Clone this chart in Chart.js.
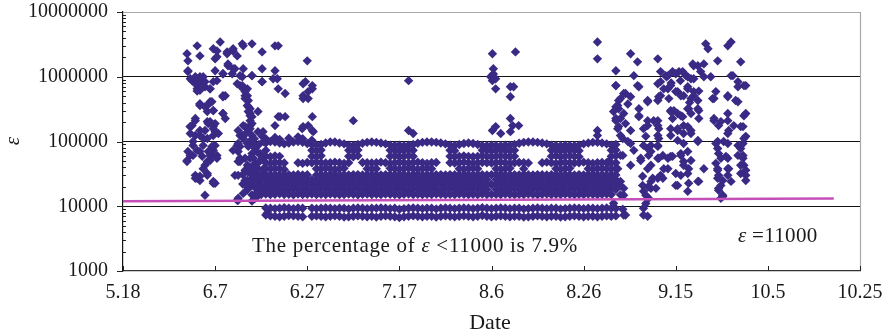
<!DOCTYPE html>
<html>
<head>
<meta charset="utf-8">
<script src="https://cdn.jsdelivr.net/npm/chart.js@4.4.1/dist/chart.umd.min.js"></script>
<style>
  html, body { margin: 0; padding: 0; background: #ffffff; }
  #wrap { width: 889px; height: 336px; position: relative; }
</style>
</head>
<body>
<div id="wrap"><canvas id="chart" width="889" height="336"></canvas></div>
<script>
// x axis: days counted from 18 May; ticks every 20 days
const tickDays = [0, 20, 40, 60, 80, 100, 120, 140, 160];
const dateTicks = ['5.18', '6.7', '6.27', '7.17', '8.6', '8.26', '9.15', '10.5', '10.25'];

// continuous records, one value per day starting at bandStartDay (null = no record)
const bandStartDay = 26;
const rowL1 = [
  null,null,null,null,null,7300,7100,7000,6900,7000,
  7200,7100,7000,6900,null,7000,7100,7000,6900,7000,
  7100,7000,6800,6900,7000,7100,7000,6900,7000,6800,
  7000,7100,7000,6900,6700,6900,7000,7100,7000,6900,
  7000,7000,6800,7000,7100,7000,6900,7000,7100,7000,
  6900,7000,7200,7000,6900,7000,7100,7000,6900,7000,
  7000,6800,6900,7000,7100,7000,6900,7000,7000,6800,
  6900,7000,7100,7000,6900,7000,7000,6900,7000,7100,
  7000,7100];
const rowL2 = [
  null,null,null,null,null,9400,9300,9200,9300,9500,
  9300,9200,9400,9300,null,9300,9200,9300,9400,9300,
  9200,9300,9300,9100,9300,9400,9300,9200,9300,9300,
  9400,9300,9200,9300,9000,9200,9300,9400,9300,9200,
  9300,9300,9100,9300,9400,9300,9200,9300,9400,9300,
  9200,9300,9500,9300,9200,9300,9400,9300,9200,9300,
  9300,9100,9200,9300,9400,9300,9200,9300,9300,9100,
  9200,9300,9400,9300,9200,9300,9300,9200,9300,9400,
  9300,9200];
const rowC1 = [
  null,null,15000,15500,15200,15400,15100,15300,15600,15200,
  15300,15000,15400,15200,15300,15500,15100,15300,15200,15400,
  15300,15100,15200,15500,15300,15000,15300,15400,15200,15300,
  15100,15400,15300,15200,15000,15300,15500,15200,15300,15100,
  15300,15200,15400,15300,15100,15300,15200,15500,15300,15200,
  15300,15100,15400,15200,15300,15300,15200,15400,15300,15100,
  15300,15200,15500,15300,15100,15300,15400,15200,15300,15200,
  15400,15300,15100,15300,15200,15500,15300,15200,15300,15400,
  15200,null];
const rowC2 = [
  null,18000,null,18500,18000,18300,18100,18400,18200,18000,
  18200,18400,18100,18300,18200,18000,18300,18200,18500,18100,
  18200,18300,18100,18200,18400,18200,18000,18300,18200,18100,
  18300,18200,18400,18100,18200,18300,18000,18200,18400,18200,
  18100,18300,18200,18000,18200,18400,18300,18100,18200,18300,
  18200,18400,18100,18200,null,18300,18200,18000,18200,18400,
  18200,18100,18300,18200,18400,18200,18000,18300,18200,18100,
  18300,18200,18400,18100,18200,18300,18200,18000,18200,18300,
  18400,18100];
const rowC3 = [
  22000,null,21000,22000,21500,21700,21900,21500,21800,21600,
  21700,21500,21900,21600,21800,21700,21400,21800,21600,21900,
  21700,21500,21800,21600,21700,21900,21600,21700,21500,21800,
  21600,21700,21900,21500,21700,21800,21600,21700,21900,21600,
  21700,21500,21800,21700,21600,21900,21700,21500,21800,21700,
  21600,21800,21700,21500,21700,21700,21900,21600,21700,21800,
  21500,21700,21800,21600,21900,21700,21500,21800,21700,21600,
  21800,21700,21500,21900,21600,21700,21800,21600,21700,21500,
  21800,21600];
const rowC4 = [
  null,25000,26000,25500,26000,25800,25600,26000,25700,25900,
  25800,25600,26100,25700,25900,25800,25500,25900,25700,26000,
  25800,25600,25900,25700,25800,26000,25700,25800,25600,25900,
  25700,25800,26000,25600,25800,25900,25700,25800,26000,25700,
  25800,25600,25900,25800,25700,26000,25800,25600,25900,25800,
  25700,25900,25800,25600,null,25800,26000,25700,25800,25900,
  25600,25800,25900,25700,26000,25800,25600,25900,25800,25700,
  25900,25800,25600,26000,25700,25800,25900,25700,25800,25600,
  25900,25700];
const rowC5 = [
  31000,null,30000,31000,30500,30600,30400,30800,30500,30700,
  30600,30400,30900,30500,30700,null,30300,30700,30500,30800,
  30600,30400,30700,30500,30600,30800,30500,30600,30400,30700,
  30500,30600,30800,30400,30600,30700,30500,30600,30800,30500,
  30600,30400,30700,30600,30500,30800,30600,30400,30700,30600,
  30500,30700,30600,30400,30600,30600,30800,30500,30600,30700,
  30400,30600,30700,30500,30800,30600,30400,30700,30600,30500,
  30700,30600,30400,30800,30500,30600,30700,30500,30600,30400,
  30700,30500];
const rowU1 = [
  null,null,null,null,null,38000,37500,38500,38000,37000,
  null,null,null,null,null,null,38000,37500,38500,38000,
  37000,38000,38500,null,null,null,null,38000,37500,38000,
  null,null,38500,38000,37500,38000,38500,38000,37500,38000,
  38500,38000,null,null,null,null,null,38000,37500,38000,
  38500,38000,null,null,null,38000,37500,38000,38500,null,
  null,38000,null,null,null,null,null,null,38000,37500,
  38000,38500,null,null,null,38000,37500,38000,38500,38000,
  37500,38000];
const rowU2 = [
  null,null,null,null,null,47000,46000,48000,47000,46500,
  null,null,47000,46000,47500,47000,48000,47000,46500,47000,
  48000,47000,46000,47000,null,null,47500,47000,46500,47000,
  48000,47000,46000,47000,47500,47000,46500,47000,48000,47000,
  46000,47000,47500,null,null,47000,46500,47000,48000,47000,
  46000,47000,47500,47000,46500,47000,48000,47000,46000,47000,
  47500,47000,46500,null,null,47000,48000,47000,46000,47000,
  47500,47000,46500,47000,48000,47000,46000,47000,47500,47000,
  46500,47000];
const rowU3 = [
  null,null,null,null,null,59000,58000,60000,59000,null,
  null,null,null,null,null,59000,58000,60000,null,null,
  null,null,null,59000,58000,60000,null,null,null,null,
  null,null,59000,60000,58000,59000,60000,59000,null,null,
  null,null,null,null,null,59000,58000,59000,60000,59000,
  58000,59000,60000,59000,58000,59000,60000,59000,58000,59000,
  null,null,null,null,null,null,null,59000,60000,58000,
  59000,60000,59000,58000,null,null,null,null,null,null,
  59000,60000];
const rowU4 = [
  null,null,null,null,null,73000,null,null,null,null,
  null,null,null,null,null,73000,72000,74000,null,null,
  null,null,null,73000,72000,74000,null,null,null,null,
  null,null,73000,74000,72000,73000,74000,73000,null,null,
  null,null,null,null,null,73000,72000,null,null,null,
  null,null,73000,74000,72000,73000,74000,73000,72000,73000,
  null,null,null,null,null,null,null,73000,74000,72000,
  73000,74000,73000,72000,null,null,null,null,null,null,
  73000,74000];
const rowU5 = [
  null,null,null,null,null,95000,100000,98000,95000,92000,
  95000,98000,100000,97000,93000,90000,88000,90000,95000,98000,
  98000,95000,92000,88000,87000,90000,94000,97000,98000,97000,
  95000,92000,88000,87000,88000,86000,88000,90000,94000,97000,
  98000,98000,97000,95000,92000,88000,87000,90000,93000,95000,
  93000,90000,87000,86000,88000,87000,86000,88000,87000,90000,
  94000,97000,98000,98000,97000,95000,92000,88000,87000,86000,
  88000,87000,86000,88000,92000,95000,97000,97000,95000,92000,
  88000,90000];

// scattered records, [day, epsilon]
const earlyPoints = [
  [16.1,3.0e6],[13.9,2.26e6],[16.7,2.1e6],[20.4,2.5e6],[21.1,3.45e6],[22.6,2.26e6],[23.9,2.5e6],
  [25.9,3.22e6],[28.0,3.22e6],[30.2,2.42e6],[33.0,3.0e6],[33.7,3.0e6],[40.0,1.76e6],[14.1,1.24e6],
  [16.1,9.3e5],[17.4,8.4e5],[20.0,1.24e6],[21.7,1.11e6],[23.9,1.33e6],[26.1,1.33e6],[28.0,1.04e6],
  [30.2,1.33e6],[33.0,1.24e6],[30.2,8.4e5],[33.5,9.3e5],[33.7,6.5e5],[35.2,5.5e5],[39.6,8.4e5],
  [41.1,6.5e5],[39.1,5.1e5],[40.2,4.6e5],[18.9,6.5e5],[21.7,4.9e5],[25.4,7.3e5],[27.0,5.1e5],
  [16.7,3.8e5],[19.3,4.1e5],[19.6,3.0e5],[27.2,3.45e5],[27.6,2.5e5],[21.7,2.7e5],[15.7,2.26e5],
  [18.3,2.03e5],[20.0,1.89e5],[34.1,2.42e5],[35.2,2.42e5],[33.0,1.76e5],[27.6,1.76e5],[41.1,2.42e5],
  [39.1,1.7e5],[41.1,1.48e5],[14.6,1.7e5],[15.7,1.24e5],[17.8,1.48e5],[20.0,1.42e5],[25.9,1.24e5],
  [27.0,1.42e5],[29.3,1.42e5],[30.2,1.2e5],[15.2,1.0e5],[17.4,8.7e4],[19.3,8.4e4],[14.1,7.0e4],
  [17.2,5.9e4],[18.5,7.0e4],[19.6,6.1e4],[13.9,4.9e4],[17.8,4.3e4],[18.9,5.1e4],[15.7,3.0e4],
  [18.3,3.0e4],[19.6,2.42e4],[16.7,2.5e4],[17.8,1.48e4],[24.8,1.24e4],[28.7,1.33e4],[24.3,3.0e4],
  [26.5,2.5e4],[28.0,3.45e4],[23.9,7.3e4],[25.4,8.4e4],[28.3,9.3e4],[25.0,4.9e4],[27.0,4.3e4],
  [25.0,9.3e4],[15.0,8.7e5],[16.3,7.8e5],[17.2,8.7e5],[16.1,6.5e5],[16.7,3.6e5],[18.3,3.6e5],
  [18.3,2.9e5],[15.0,1.76e5],[18.5,1.89e5],[14.6,1.33e5],[16.7,1.48e5],[15.2,8.7e4],[17.4,1.11e5],
  [19.6,1.24e5],[14.6,6.1e4],[16.7,7.0e4],[19.6,7.3e4],[18.3,4.9e4],[20.4,5.5e4],[16.1,2.7e4],
  [18.3,3.2e4],[20.0,2.26e4],[19.6,2.7e6],[20.4,2.03e6],[20.4,8.7e5],[22.2,5.1e5],[22.2,2.26e5],
  [19.6,1.7e5],[20.7,1.33e5],[20.0,8.7e4],[20.4,6.1e4],[22.6,2.42e6],[23.9,2.7e6],[24.8,2.1e6],
  [22.8,1.58e6],[26.1,3.0e6],[25.4,1.04e6],[24.8,7.8e5],[27.0,6.5e5],[26.5,5.1e5],[27.0,3.6e5],
  [27.6,2.7e5],[28.0,1.89e5],[25.4,1.24e5],[25.4,5.5e4],[25.0,3.0e4],[27.0,2.5e4],[25.0,1.24e4],
  [28.0,1.2e4],[32.6,9.3e5],[33.7,2.42e5],[30.4,1.42e5],[29.1,1.42e4],[31.3,7.8e3],[39.1,7.8e5],
  [41.1,7.3e5],[40.2,5.9e5],[39.1,4.6e5],[38.9,1.58e5],[40.2,1.76e5],[41.3,1.42e5],[50.0,2.1e5],
  [62.0,8.7e5],[62.0,1.48e5],[63.0,1.33e5],[14.6,9.3e5],[15.7,7.8e5],[16.7,1.0e6],[17.8,7.0e5],
  [16.7,6.2e5],[26.1,6.5e5],[26.5,4.6e5],[27.2,2.9e5],[27.6,2.1e5],[26.5,1.7e5],[26.1,1.11e5],
  [27.0,9.3e4],[28.7,7.8e4],[29.8,6.5e4],[27.6,5.5e4],[29.3,3.8e4],[30.2,2.9e4],[27.2,1.89e4],
  [29.3,1.89e4],[26.1,1.58e4],[30.2,5.5e4],[28.7,4.6e4],[26.5,3.6e4],
  [31,1.1e5],[33,1.15e5],[34,1.08e5],[36,1.12e5],[38,1.18e5],[39,1.1e5],[41,1.05e5],
  [14.1,1.76e6],[20.0,1.89e6],[14.1,1.2e6],[15.7,1.0e6],[16.3,8.4e5],[17.2,7.0e5],[16.1,6.0e5],
  [17.8,8.4e5],[17.4,1.0e6],[18.9,6.5e5],[19.6,8.4e5],[21.7,1.11e6],[22.8,1.48e6],[24.3,1.33e6],
  [23.7,1.11e6],[25.9,1.0e6],[28.0,1.04e6],[30.2,8.4e5],[21.7,5.1e5],[16.7,3.8e5],[18.9,4.1e5],
  [17.8,3.45e5],[19.6,3.0e5],[21.7,2.7e5],[15.7,2.1e5],[18.9,2.03e5],[19.6,1.58e5],[14.6,1.7e5],
  [16.7,1.24e5],[18.3,1.11e5],[16.1,7.3e4],[19.6,8.4e4],[18.9,6.1e4],[13.9,5.1e4],[15.2,6.1e4],
  [17.4,3.8e4],[16.7,2.9e4],[19.6,2.26e4],[15.7,2.7e4],[25.9,7.3e5],[26.5,5.9e5],[27.2,4.3e5],
  [27.6,3.2e5],[28.0,2.42e5],[26.1,1.76e5],[27.6,1.58e5],[25.0,1.48e5],[26.1,1.2e5],[28.0,1.24e5],
  [24.8,8.7e4],[25.0,7.0e4],[27.2,8.4e4],[26.5,5.5e4],[25.4,4.9e4],[28.3,5.5e4],[27.0,3.45e4],
  [28.3,2.7e4],[25.0,1.33e4],[28.7,1.48e4],[29.3,2.9e5],
  [27.5,1.0e5],[28.5,1.1e5],[29.5,9.0e4],[30.5,1.0e5],[29.0,7.0e4],[30.0,6.0e4],[28.0,6.5e4],
  [29.5,4.8e4],[27.8,4.0e4],[29.0,3.3e4],[30.5,3.8e4],[28.0,2.3e4],[30.0,2.1e4],[29.0,1.6e4],[27.0,2.0e4]
];
const latePoints = [
  [80.2,2.26e6],[80.4,1.33e6],[79.8,1.0e6],[80.2,8.7e5],[80.9,6.5e5],[85.2,2.42e6],[84.1,7.0e5],
  [84.8,7.0e5],[84.1,4.9e5],[84.1,2.26e5],[84.6,1.76e5],[85.9,1.76e5],[80.2,1.48e5],[82.0,1.33e5],
  [80.9,1.7e5],[84.1,1.42e5],[80.4,1.1e6],[80.9,9.3e5],
  [103.0,3.45e6],[103.0,1.89e6],[103.0,1.48e5],[103.0,1.24e5],
  [107.0,1.24e6],[107.0,7.3e5],[110.2,2.26e6],[111.7,1.7e6],[110.9,1.04e6],[112.0,7.0e5],[109.1,5.5e5],
  [110.2,4.9e5],[107.4,3.6e5],[112.0,3.2e5],[107.0,2.1e5],[112.0,2.42e5],[110.2,1.48e5],[108.5,1.11e5],
  [110.2,9.3e4],[106.5,7.8e4],[108.0,6.1e4],[105.4,4.9e4],[107.4,3.8e4],[106.3,2.7e4],[108.0,2.1e4],
  [105.4,1.7e4],[106.5,1.11e4],[109.1,7.3e3],[108.0,4.6e5],[106.5,2.9e5],[108.0,2.26e5],[107.4,1.58e5],
  [109.1,1.89e5],[107.6,3.2e5],[108.0,1.5e4],[108.5,9.0e3],
  [113.0,8.7e4],[114.6,7.0e4],[112.4,5.1e4],[113.9,3.8e4],[112.8,2.9e4],[114.6,2.42e4],[113.0,1.7e4],
  [114.1,1.33e4],[113.0,9.3e3],[113.9,7.0e3],[116.1,1.89e6],[116.3,4.9e5],[113.9,4.3e5],[115.2,2.1e5],
  [113.9,1.76e5],[116.3,1.58e5],[116.3,1.11e5],[116.1,8.4e4],[117.2,6.1e4],[117.4,3.8e4],[117.2,2.7e4],
  [113.5,1.2e5],[114.0,2.0e4],[113.5,1.1e4],
  [116.7,8.4e5],[117.8,1.04e6],[119.3,1.2e6],[120.7,1.2e6],[122.2,1.04e6],[123.3,9.3e5],[118.3,6.5e5],
  [120.4,5.9e5],[122.6,6.5e5],[123.9,5.1e5],[118.5,4.6e5],[121.7,5.1e5],[119.6,3.0e5],[122.8,3.2e5],
  [124.8,3.2e5],[118.9,2.9e5],[121.1,2.5e5],[125.0,2.26e5],[120.4,1.58e5],[121.7,1.76e5],[123.3,1.48e5],
  [118.9,1.24e5],[124.8,1.0e5],[120.4,1.04e5],[121.7,9.3e4],[121.1,6.5e4],[119.3,5.9e4],[121.7,4.9e4],
  [122.8,3.8e4],[121.1,3.0e4],[118.3,3.8e4],[120.4,2.1e4],[122.8,2.26e4],[122.6,1.7e4],[126.1,3.8e4],
  [125.0,2.42e4],[119.0,8.0e5],[121.0,8.7e5],[118.0,1.0e6],[123.0,4.0e5],
  [126.5,3.22e6],[127.0,2.7e6],[132.0,3.45e6],[131.3,3.0e6],[129.1,1.76e6],[134.1,1.7e6],[124.8,1.48e6],
  [123.7,1.58e6],[126.1,1.58e6],
  [127.6,1.0e6],[128.7,5.9e5],[128.0,4.6e5],[131.3,5.1e5],[132.4,1.04e6],[133.5,7.0e5],[134.8,7.3e5],
  [133.0,4.3e5],[134.8,2.5e5],[128.3,2.26e5],[129.3,1.76e5],[131.3,2.1e5],[134.6,1.7e5],[131.5,1.48e5],
  [128.7,9.3e4],[130.4,1.0e5],[134.8,1.11e5],[129.3,6.5e4],[130.9,5.9e4],[133.5,6.1e4],[128.7,4.6e4],
  [131.5,3.8e4],[134.8,4.3e4],[129.3,3.0e4],[131.3,3.0e4],[135.2,2.5e4],[129.8,2.1e4],[130.2,1.48e4],
  [133.5,8.7e4],[129.1,7.8e4],[129.8,5.5e4],[129.1,3.6e4],[130.2,2.5e4],[129.3,1.76e4],[129.8,1.33e4],
  [134.1,7.8e4],[134.6,5.5e4],[134.1,3.2e4],[135.2,3.6e4],
  [107.0,7.3e5],[108.7,5.5e5],[111.7,7.3e5],[107.6,4.3e5],[107.0,3.45e5],[109.6,3.8e5],[113.9,4.1e5],
  [117.4,6.5e5],[112.0,2.5e5],[107.0,2.26e5],[108.7,2.7e5],[113.9,2.1e5],[116.1,1.76e5],[107.6,1.7e5],
  [113.0,1.58e5],[108.0,1.24e5],[116.1,8.7e4],[113.9,7.8e4],[109.6,1.0e5],[110.9,7.3e4],[108.5,6.1e4],
  [112.4,5.5e4],[114.1,6.1e4],[116.3,5.5e4],[118.3,5.5e4],[110.2,4.3e4],[116.7,3.0e4],[115.0,2.7e4],
  [108.0,2.42e4],[108.7,1.89e4],[112.8,2.1e4],[113.5,1.48e4],[114.6,1.89e4],[108.7,1.48e4],[108.7,7.3e3],
  [113.0,7.3e3],
  [123.9,1.48e6],[125.4,1.2e6],[116.7,1.2e6],[118.3,1.04e6],[120.0,1.11e6],[121.5,1.2e6],[122.6,1.0e6],
  [123.9,9.3e5],[126.1,1.0e6],[132.0,1.04e6],[133.5,8.4e5],[135.2,7.3e5],[116.1,7.8e5],[118.9,7.3e5],
  [116.7,5.1e5],[120.0,5.9e5],[122.6,7.0e5],[123.9,5.9e5],[125.0,6.0e5],[116.1,4.3e5],[121.1,5.1e5],
  [123.3,4.6e5],[124.8,4.3e5],[128.3,4.6e5],[131.3,4.9e5],[133.5,4.1e5],[118.9,3.0e5],[120.4,2.7e5],
  [122.6,3.2e5],[123.3,2.7e5],[125.0,3.0e5],[131.3,2.7e5],[135.2,2.7e5],[116.1,2.1e5],[119.3,2.26e5],
  [121.5,2.42e5],[128.3,2.1e5],[129.8,2.03e5],[132.6,1.76e5],[134.1,1.7e5],[118.9,1.58e5],[120.4,1.48e5],
  [122.6,1.7e5],[121.7,1.33e5],[123.3,1.33e5],[124.8,1.04e5],[116.1,1.24e5],[114.6,8.7e4],[131.3,1.33e5],
  [135.2,1.2e5],[129.1,1.0e5],[131.3,9.3e4],[134.6,9.3e4],[118.9,5.9e4],[121.1,6.1e4],[122.6,7.0e4],
  [123.3,5.1e4],[121.7,4.3e4],[120.0,3.2e4],[122.6,3.2e4],[116.1,5.5e4],[114.6,4.3e4],[131.3,5.5e4],
  [129.1,3.8e4],[134.6,6.1e4],[134.1,4.3e4],[135.2,3.0e4],[131.3,3.8e4],[129.1,2.7e4],[132.0,2.42e4],
  [116.1,2.7e4],[120.0,2.1e4],[124.8,2.42e4],[115.7,1.89e4],[129.3,1.89e4],[130.2,1.42e4]
];

// threshold trend line, [day, epsilon]
const trendDays = [0, 154.3];
const trendEps = [11900, 13200];

const SERIF = '"Liberation Serif", "Times New Roman", serif';
const MARK = '#3b2a85';

const points = [];
[rowL1, rowL2, rowC1, rowC2, rowC3, rowC4, rowC5, rowU1, rowU2, rowU3, rowU4, rowU5].forEach(row => {
  row.forEach((v, i) => { if (v !== null) points.push({ x: bandStartDay + i, y: v }); });
});
earlyPoints.concat(latePoints).forEach(([d, v]) => points.push({ x: d, y: v }));
const trend = trendDays.map((d, i) => ({ x: d, y: trendEps[i] }));

const decorations = {
  id: 'decorations',
  beforeDatasetsDraw(chart) {
    const { ctx, chartArea: a } = chart;
    ctx.save();
    ctx.strokeStyle = '#a8a8a8';
    ctx.lineWidth = 1.2;
    ctx.beginPath();
    ctx.moveTo(a.right + 0.5, a.top);
    ctx.lineTo(a.right + 0.5, a.bottom);
    ctx.stroke();
    ctx.restore();
  },
  afterDraw(chart) {
    const { ctx, chartArea: a, scales } = chart;
    const xs = scales.x, ys = scales.y;
    ctx.save();
    ctx.strokeStyle = '#222';
    ctx.lineWidth = 1;
    const seg = (x1, y1, x2, y2) => { ctx.beginPath(); ctx.moveTo(x1, y1); ctx.lineTo(x2, y2); ctx.stroke(); };
    for (let e = 3; e <= 7; e++) {
      const p = Math.round(ys.getPixelForValue(Math.pow(10, e))) + 0.5;
      seg(a.left - 6, p, a.left, p);
      if (e < 7) {
        for (let m = 2; m <= 9; m++) {
          const q = Math.round(ys.getPixelForValue(m * Math.pow(10, e))) + 0.5;
          seg(a.left, q, a.left + 3, q);
        }
      }
    }
    tickDays.forEach(d => {
      const p = Math.round(xs.getPixelForValue(d)) + 0.5;
      seg(p, a.bottom, p, a.bottom - 5);
    });

    ctx.fillStyle = '#1a1a1a';
    ctx.textBaseline = 'alphabetic';
    const runs = (x, yb, parts, size, spacing) => {
      let cx = x;
      ctx.letterSpacing = spacing;
      parts.forEach(([t, it]) => {
        ctx.font = (it ? 'italic ' : '') + size + 'px ' + SERIF;
        ctx.fillText(t, cx, yb);
        cx += ctx.measureText(t).width;
      });
      ctx.letterSpacing = '0px';
    };
    ctx.textAlign = 'left';
    runs(252, 252, [['The percentage of ', false], ['\u03b5', true], [' <11000 is 7.9%', false]], 21, '0.7px');
    runs(738, 242, [['\u03b5', true], [' =11000', false]], 21, '0.3px');

    ctx.font = '22px ' + SERIF;
    ctx.textAlign = 'center';
    ctx.fillText('Date', 490, 329);

    ctx.translate(19, 141);
    ctx.rotate(-Math.PI / 2);
    ctx.font = 'italic 21px ' + SERIF;
    ctx.textAlign = 'center';
    ctx.fillText('\u03b5', 0, 0);
    ctx.restore();
  }
};

new Chart(document.getElementById('chart'), {
  type: 'scatter',
  data: {
    datasets: [
      {
        type: 'line',
        data: trend,
        borderColor: '#c44fb9',
        borderWidth: 2.5,
        pointRadius: 0,
        fill: false,
        order: 0
      },
      {
        data: points,
        pointStyle: 'rectRot',
        pointRadius: 4.7,
        backgroundColor: MARK,
        borderColor: MARK,
        borderWidth: 0,
        order: 1
      }
    ]
  },
  options: {
    responsive: false,
    animation: false,
    devicePixelRatio: 1,
    layout: { padding: { top: 12, right: 29, left: 0, bottom: 0 } },
    plugins: { legend: { display: false }, tooltip: { enabled: false } },
    scales: {
      x: {
        type: 'linear',
        min: 0,
        max: 160,
        afterBuildTicks: s => { s.ticks = tickDays.map(v => ({ value: v })); },
        afterFit: s => { s.height = 65; s.paddingLeft = 0; s.paddingRight = 0; },
        ticks: {
          callback: (v) => dateTicks[tickDays.indexOf(v)],
          font: { family: SERIF, size: 20 },
          color: '#1a1a1a',
          padding: 10,
          maxRotation: 0,
          autoSkip: false
        },
        grid: { display: true, drawOnChartArea: false, drawTicks: false },
        border: { display: true, color: '#333', width: 1.2 }
      },
      y: {
        type: 'logarithmic',
        min: 1000,
        max: 10000000,
        afterBuildTicks: s => { s.ticks = [1e3, 1e4, 1e5, 1e6, 1e7].map(v => ({ value: v })); },
        afterFit: s => { s.width = 123; s.paddingTop = 0; s.paddingBottom = 0; },
        ticks: {
          callback: (v) => String(v),
          font: { family: SERIF, size: 20 },
          color: '#1a1a1a',
          padding: 15,
          autoSkip: false
        },
        grid: {
          drawTicks: false,
          color: c => (c.tick && c.tick.value === 1e7) ? '#a8a8a8' : (c.tick && c.tick.value === 1e3 ? 'rgba(0,0,0,0)' : '#111'),
          lineWidth: 1
        },
        border: { display: true, color: '#111', width: 1.2 }
      }
    }
  },
  plugins: [decorations]
});
</script>
</body>
</html>
